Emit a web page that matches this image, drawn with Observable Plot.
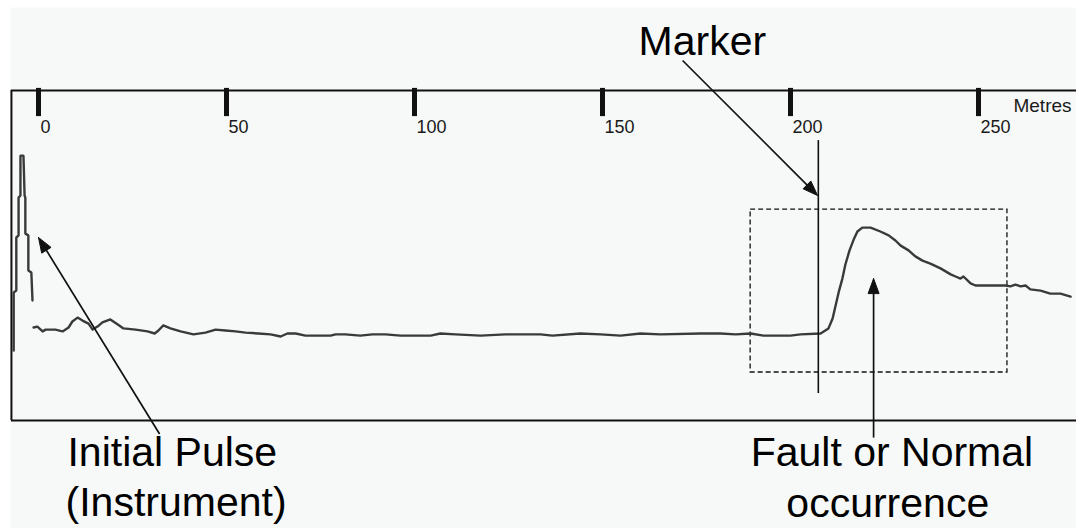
<!DOCTYPE html>
<html>
<head>
<meta charset="utf-8">
<script src="https://cdn.jsdelivr.net/npm/d3@7"></script>
<script src="https://cdn.jsdelivr.net/npm/@observablehq/plot@0.6"></script>
<style>
  html, body { margin: 0; padding: 0; background: #ffffff; }
  #chart svg { display: block; }
</style>
</head>
<body>
<div id="chart"></div>
<script>
// ---- Data (distance in metres, reflected signal level in arbitrary units) ----
const tickValues = [0, 50, 100, 150, 200, 250];
const tickLabels = ["0", "50", "100", "150", "200", "250"];
const axisUnit = "Metres";

// Initial pulse produced by the instrument
const pulseDistance = [-6.6, -6.6, -5.9, -5.9, -5.3, -5.3, -4.8, -4.8, -4.0, -3.7, -3.5, -3.5, -2.7, -2.7, -1.9, -1.6];
const pulseLevel    = [23.3, 42.7, 43.3, 61.0, 61.7, 74.3, 75.0, 88.3, 88.3, 75.0, 74.3, 62.3, 61.7, 50.0, 49.3, 40.0];

// Trace after the pulse
const traceDistance = [
  -1.3, -0.3, 1.1, 1.9, 4.5, 6.4, 8.0, 9.0, 10.4, 11.7,
  13.3, 14.4, 15.7, 17.0, 19.1, 20.7, 22.6, 25.8, 29.0, 30.9,
  31.9, 33.2, 35.1, 37.8, 41.2, 44.4, 47.1, 49.7, 52.4, 55.1,
  58.5, 61.7, 64.4, 66.2, 68.4, 71.0, 77.7, 79.0, 81.6, 85.6,
  88.8, 92.3, 96.3, 104.3, 106.9, 110.9, 117.6, 124.2, 133.5, 136.7,
  144.1, 149.5, 154.8, 160.1, 165.4, 176.1, 181.4, 185.4, 189.4, 192.8,
  200.0, 202.7, 208.0, 210.1, 211.2, 212.0, 212.8, 213.8, 214.6, 215.7,
  216.8, 217.8, 219.1, 221.3, 223.9, 226.1, 227.9, 229.3, 231.4, 233.2,
  235.1, 237.2, 239.9, 242.6, 243.9, 245.2, 246.0, 247.9, 249.2, 257.2,
  258.5, 259.8, 261.2, 262.5, 263.8, 266.5, 269.1, 271.8, 274.5
];
const traceLevel = [
  31.0, 31.3, 29.7, 30.3, 30.3, 29.7, 31.0, 33.0, 34.3, 33.3,
  32.3, 30.3, 31.3, 32.7, 33.7, 32.3, 30.7, 30.3, 29.7, 29.0,
  30.0, 31.7, 30.7, 29.7, 28.7, 29.3, 30.3, 30.0, 29.7, 29.3,
  29.0, 28.7, 28.0, 29.0, 29.0, 28.3, 28.3, 28.7, 28.7, 28.3,
  28.7, 28.7, 28.3, 28.3, 29.0, 28.7, 28.3, 28.7, 28.7, 28.3,
  29.0, 28.7, 28.3, 29.0, 28.7, 29.0, 29.0, 28.7, 29.0, 28.3,
  28.3, 28.7, 29.0, 30.7, 34.0, 38.3, 42.7, 47.3, 52.0, 56.7,
  60.3, 63.0, 64.3, 64.3, 63.0, 61.7, 60.0, 58.3, 56.7, 54.7,
  53.3, 52.3, 50.7, 48.7, 48.0, 47.3, 48.0, 45.7, 45.0, 45.0,
  44.7, 45.3, 44.7, 45.0, 43.7, 43.3, 42.3, 42.3, 41.3
];

const markerDistance = 207.4;

// ---- Scale configuration ----
const xDomain = [0, 250], xRange = [38, 978];
const yDomain = [0, 110], yRange = [420, 90];
const kx = (xRange[1] - xRange[0]) / (xDomain[1] - xDomain[0]);   // px per metre
const ky = (yRange[0] - yRange[1]) / (yDomain[1] - yDomain[0]);   // px per level unit

const pulse = pulseDistance.map((d, i) => ({d, v: pulseLevel[i]}));
const trace = traceDistance.map((d, i) => ({d, v: traceLevel[i]}));
const ticks = tickValues.map((t, i) => ({t, label: tickLabels[i]}));

// ---- Annotations ----
const frameLeft = -7.2, frameTop = 110, frameBottom = 0, frameRight = 290;
const arrows = [
  {id: "marker", x1: 171.3, y1: 120.0, x2: 207.2, y2: 75.0},
  {id: "pulse",  x1: 32.2,  y1: -4.5,  x2: 0.0,   y2: 61.0},
  {id: "fault",  x1: 222.1, y1: -5.7,  x2: 222.1, y2: 47.3}
];
const faultBox = [{x1: 189.4, x2: 257.7, y1: 16.0, y2: 70.3}];
const labels = [
  {x: 159.6, y: 121.7, text: "Marker"},
  {x: 7.7,   y: -15.0, text: "Initial Pulse"},
  {x: 7.2,   y: -31.7, text: "(Instrument)"},
  {x: 189.4, y: -15.0, text: "Fault or Normal"},
  {x: 198.9, y: -32.3, text: "occurrence"}
];

// filled triangular arrow heads, built in screen space then mapped back to data units
function headPolygon(a, len = 15, half = 5.5) {
  const dxp = (a.x2 - a.x1) * kx, dyp = -(a.y2 - a.y1) * ky;
  const n = Math.hypot(dxp, dyp), ux = dxp / n, uy = dyp / n;
  const bx = -ux * len, by = -uy * len;        // tip -> base centre
  const px = -uy * half, py = ux * half;       // perpendicular
  const toData = (ox, oy) => ({x: a.x2 + ox / kx, y: a.y2 - oy / ky, id: a.id});
  return [toData(0, 0), toData(bx + px, by + py), toData(bx - px, by - py), toData(0, 0)];
}
const heads = arrows.flatMap(a => headPolygon(a));
// shorten each link so it ends inside its head
const links = arrows.map(a => {
  const dxp = (a.x2 - a.x1) * kx, dyp = -(a.y2 - a.y1) * ky;
  const s = 8 / Math.hypot(dxp, dyp);
  return {...a, x2: a.x2 - (a.x2 - a.x1) * s, y2: a.y2 - (a.y2 - a.y1) * s};
});

const ink = "#111111";

const chart = Plot.plot({
  width: 1076,
  height: 528,
  marginLeft: 10,
  marginTop: 7,
  marginRight: 0,
  marginBottom: 0,
  style: {fontFamily: "'Liberation Sans', Arial, sans-serif", background: "#ffffff", overflow: "visible"},
  x: {domain: xDomain, range: xRange, axis: null},
  y: {domain: yDomain, range: yRange, axis: null},
  marks: [
    Plot.frame({fill: "#f6f9f7", stroke: null}),
    // plot frame lines (top, bottom, left)
    Plot.ruleY([frameTop, frameBottom], {x1: frameLeft, x2: frameRight, stroke: ink, strokeWidth: 2}),
    Plot.ruleX([frameLeft], {y1: frameBottom, y2: frameTop, stroke: ink, strokeWidth: 2}),
    // distance ticks along the top
    Plot.ruleX(ticks, {x: "t", y1: 101.3, y2: 110.7, stroke: ink, strokeWidth: 5}),
    Plot.text(ticks, {x: "t", y: 95.7, text: "label", dx: 2, textAnchor: "start", lineAnchor: "bottom", fontSize: 18, fill: "#1a1a1a"}),
    Plot.text([axisUnit], {x: 259.3, y: 103, text: d => d, textAnchor: "start", lineAnchor: "bottom", fontSize: 19, fill: "#1a1a1a"}),
    // fault region
    Plot.rect(faultBox, {x1: "x1", x2: "x2", y1: "y1", y2: "y2", fill: "none", stroke: ink, strokeWidth: 1.3, strokeDasharray: "5,3"}),
    // the trace
    Plot.line(pulse, {x: "d", y: "v", stroke: "#3a3a3a", strokeWidth: 2.4, strokeLinejoin: "miter"}),
    Plot.line(trace, {x: "d", y: "v", stroke: "#3a3a3a", strokeWidth: 2.4, strokeLinejoin: "round"}),
    // marker cursor
    Plot.ruleX([markerDistance], {y1: 9.0, y2: 93.3, stroke: ink, strokeWidth: 1.6}),
    // annotation arrows
    Plot.link(links, {x1: "x1", y1: "y1", x2: "x2", y2: "y2", stroke: ink, strokeWidth: 1.7}),
    Plot.line(heads, {x: "x", y: "y", z: "id", fill: ink, stroke: ink, strokeWidth: 1, strokeLinejoin: "miter"}),
    // annotation labels
    Plot.text(labels, {x: "x", y: "y", text: "text", textAnchor: "start", lineAnchor: "bottom", fontSize: 41, fill: "#000000"})
  ]
});

document.getElementById("chart").appendChild(chart);
</script>
</body>
</html>
